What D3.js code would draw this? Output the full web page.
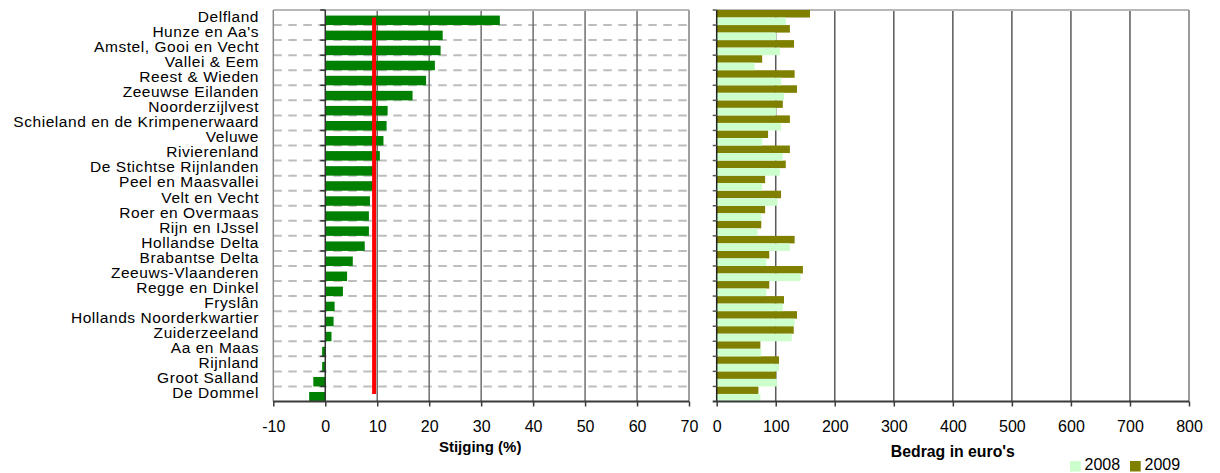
<!DOCTYPE html>
<html><head><meta charset="utf-8">
<script src="https://cdn.jsdelivr.net/npm/d3@7"></script>
<style>
body{margin:0;background:#fff;}
svg{display:block;font-family:"Liberation Sans",Arial,sans-serif;}
</style></head>
<body><svg id="c" width="1220" height="473"></svg>
<script>
const categories = ["Delfland","Hunze en Aa's","Amstel, Gooi en Vecht","Vallei & Eem","Reest & Wieden","Zeeuwse Eilanden","Noorderzijlvest","Schieland en de Krimpenerwaard","Veluwe","Rivierenland","De Stichtse Rijnlanden","Peel en Maasvallei","Velt en Vecht","Roer en Overmaas","Rijn en IJssel","Hollandse Delta","Brabantse Delta","Zeeuws-Vlaanderen","Regge en Dinkel","Fryslân","Hollands Noorderkwartier","Zuiderzeeland","Aa en Maas","Rijnland","Groot Salland","De Dommel"];
const stijging = [33.6,22.6,22.2,21.1,19.4,16.8,12.0,11.8,11.2,10.5,9.3,9.2,8.6,8.4,8.4,7.6,5.3,4.2,3.4,1.8,1.6,1.2,-0.6,-0.6,-2.3,-3.1];
const gemiddelde = 9.4;
const bedrag2008 = [117,101,107,64,109,114,101,109,77,112,107,77,103,75.5,69,124,84,142,84,112,132,127,75.5,105.6,102,74];
const bedrag2009 = [158,124,131,77,132,136,112,124,87,124,117,82,109,82,75.5,132,89,146,89,114,136,130.5,74,105.6,100.6,70.6];
const ticksLeft = [-10,0,10,20,30,40,50,60,70];
const ticksRight = [0,100,200,300,400,500,600,700,800];
const seriesNames = ["2008","2009"];
const seriesColors = ["#CCFFCC","#808000"];

const svg = d3.select("#c");
const pTop = 10, pBottom = 401.5;
const y = d3.scaleBand().domain(categories).range([pTop, pBottom]).padding(0);
const bw = y.bandwidth();

// ---------- LEFT CHART ----------
const xL = d3.scaleLinear().domain([-10,70]).range([273.3, 689]);
const gL = svg.append("g");
gL.selectAll("line.hd").data(categories.slice(1)).enter().append("line")
  .attr("x1", xL(-10)).attr("x2", xL(70))
  .attr("y1", d => y(d)).attr("y2", d => y(d))
  .attr("stroke", "#bdbdbd").attr("stroke-width", 2).attr("stroke-dasharray", "8.5,6.5");
gL.selectAll("line.vg").data(ticksLeft.filter(t => t > 0 && t < 70)).enter().append("line")
  .attr("x1", d => xL(d)).attr("x2", d => xL(d)).attr("y1", pTop).attr("y2", pBottom)
  .attr("stroke", "#6e6e6e").attr("stroke-width", 1.5);
gL.append("line").attr("x1", xL(-10)).attr("x2", xL(70)).attr("y1", pTop).attr("y2", pTop).attr("stroke", "#b8b8b8").attr("stroke-width", 2);
gL.append("line").attr("x1", xL(70)).attr("x2", xL(70)).attr("y1", pTop).attr("y2", pBottom).attr("stroke", "#a0a0a0").attr("stroke-width", 2);
gL.append("line").attr("x1", xL(-10)).attr("x2", xL(-10)).attr("y1", pTop).attr("y2", pBottom).attr("stroke", "#8a8a8a").attr("stroke-width", 1.5);
gL.selectAll("rect.b").data(categories).enter().append("rect")
  .attr("x", (d,i) => xL(Math.min(0, stijging[i])))
  .attr("width", (d,i) => Math.abs(xL(stijging[i]) - xL(0)))
  .attr("y", d => y(d) + bw*0.37).attr("height", bw*0.63)
  .attr("fill", "#008000");
gL.append("line").attr("x1", xL(0)).attr("x2", xL(0)).attr("y1", pTop).attr("y2", pBottom).attr("stroke", "#333").attr("stroke-width", 1.5);
gL.selectAll("line.ct").data(d3.range(categories.length)).enter().append("line")
  .attr("x1", xL(0) - 5).attr("x2", xL(0)).attr("y1", i => pTop + i*bw).attr("y2", i => pTop + i*bw)
  .attr("stroke", "#333").attr("stroke-width", 1.5);
const lineGen = d3.line().x(() => xL(gemiddelde)).y(d => y(d) + bw/2);
gL.append("path").datum(categories).attr("d", lineGen).attr("fill", "none").attr("stroke", "#ff0000").attr("stroke-width", 4);
gL.selectAll("text.cl").data(categories).enter().append("text")
  .attr("x", 259).attr("y", d => y(d) + bw/2 + 4.3)
  .attr("text-anchor", "end").attr("font-size", "15.5px").attr("letter-spacing", "0.55px")
  .attr("fill", "#000").text(d => d);
const axL = svg.append("g").attr("transform", `translate(0,${pBottom})`)
  .call(d3.axisBottom(xL).tickValues(ticksLeft).tickSize(5).tickPadding(14).tickFormat(d3.format("d")));
axL.select(".domain").attr("stroke", "#3a3a3a").attr("stroke-width", 2).attr("d", `M${xL(-10)},0H${xL(70)}`);
axL.selectAll(".tick line").attr("stroke", "#3a3a3a").attr("stroke-width", 1.5);
axL.selectAll(".tick text").attr("font-size", "16px").attr("fill", "#000").attr("font-family", "Liberation Sans, Arial, sans-serif").text(d => d < 0 ? "-" + Math.abs(d) : d);
svg.append("text").attr("x", (xL(-10)+xL(70))/2 - 1).attr("y", 452).attr("text-anchor", "middle")
  .attr("font-size", "15px").attr("font-weight", "bold").text("Stijging (%)");

// ---------- RIGHT CHART ----------
const xR = d3.scaleLinear().domain([0,800]).range([716.7, 1189]);
const gR = svg.append("g");
gR.selectAll("line.vg").data(ticksRight.filter(t => t > 0 && t < 800)).enter().append("line")
  .attr("x1", d => xR(d)).attr("x2", d => xR(d)).attr("y1", pTop).attr("y2", pBottom)
  .attr("stroke", "#5a5a5a").attr("stroke-width", 1.5);
gR.append("line").attr("x1", xR(0)).attr("x2", xR(800)).attr("y1", pTop).attr("y2", pTop).attr("stroke", "#b8b8b8").attr("stroke-width", 2);
gR.append("line").attr("x1", xR(800)).attr("x2", xR(800)).attr("y1", pTop).attr("y2", pBottom).attr("stroke", "#9a9a9a").attr("stroke-width", 2);
const sub = d3.scaleBand().domain(["2009","2008"]).range([0, bw]).padding(0);
const vals = {"2008": bedrag2008, "2009": bedrag2009};
["2009","2008"].forEach(s => {
  gR.selectAll("rect.s"+s).data(categories).enter().append("rect")
    .attr("x", xR(0)).attr("width", (d,i) => xR(vals[s][i]) - xR(0))
    .attr("y", d => y(d) + sub(s)).attr("height", sub.bandwidth())
    .attr("fill", seriesColors[seriesNames.indexOf(s)]);
});
gR.append("line").attr("x1", xR(0)).attr("x2", xR(0)).attr("y1", pTop).attr("y2", pBottom).attr("stroke", "#222").attr("stroke-width", 1.5);
gR.selectAll("line.ct").data(d3.range(categories.length)).enter().append("line")
  .attr("x1", xR(0) - 4).attr("x2", xR(0)).attr("y1", i => pTop + i*bw).attr("y2", i => pTop + i*bw)
  .attr("stroke", "#555").attr("stroke-width", 1.5);
const axR = svg.append("g").attr("transform", `translate(0,${pBottom})`)
  .call(d3.axisBottom(xR).tickValues(ticksRight).tickSize(5).tickPadding(14).tickFormat(d3.format("d")));
axR.select(".domain").attr("stroke", "#3a3a3a").attr("stroke-width", 2).attr("d", `M${xR(0)-4},0H${xR(800)}`);
axR.selectAll(".tick line").attr("stroke", "#3a3a3a").attr("stroke-width", 1.5);
axR.selectAll(".tick text").attr("font-size", "16px").attr("fill", "#000").attr("font-family", "Liberation Sans, Arial, sans-serif");
svg.append("text").attr("x", (xR(0)+xR(800))/2).attr("y", 457).attr("text-anchor", "middle")
  .attr("font-size", "15.8px").attr("font-weight", "bold").text("Bedrag in euro's");

const leg = svg.append("g");
const legX = [1070, 1130];
seriesNames.forEach((s, i) => {
  leg.append("rect").attr("x", legX[i]).attr("y", 461).attr("width", 10.7).attr("height", 10.5).attr("fill", seriesColors[i]);
  leg.append("text").attr("x", legX[i] + 14.5).attr("y", 470).attr("font-size", "16px").attr("fill", "#000").text(s);
});
</script></body></html>
